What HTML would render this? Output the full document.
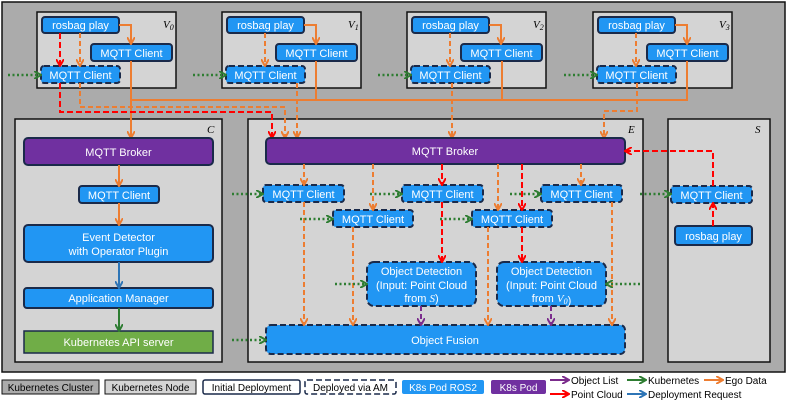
<!DOCTYPE html>
<html><head><meta charset="utf-8"><style>
body{margin:0;background:#fff}
svg{display:block;font-family:"Liberation Sans",sans-serif}
.b{fill:#2196f3;stroke:#1a2a4a;stroke-width:2}
.d{stroke-dasharray:6,3}
.t{fill:#fff;font-size:11px;text-anchor:middle}
.o{stroke:#ed7d31;stroke-width:2;fill:none}
.r{stroke:#ff0000;stroke-width:2;fill:none;stroke-dasharray:6,3}
.od{stroke-dasharray:5,3}
.g{stroke:#2e7d32;stroke-width:2.5;fill:none;stroke-dasharray:2,2.5}
.p{stroke:#7b2c8c;stroke-width:2;fill:none;stroke-dasharray:5,3}
.lbl{font-family:"Liberation Serif",serif;font-style:italic;font-size:11px}
.lg{font-size:10px;text-anchor:middle}
</style></head><body>
<svg width="788" height="405" viewBox="0 0 788 405">
<defs>
<marker id="ao" markerWidth="8" markerHeight="8" refX="6" refY="4" orient="auto" markerUnits="userSpaceOnUse"><path d="M0,0 L7,4 L0,8" fill="none" stroke="#ed7d31" stroke-width="2"/></marker>
<marker id="ar" markerWidth="8" markerHeight="8" refX="6" refY="4" orient="auto" markerUnits="userSpaceOnUse"><path d="M0,0 L7,4 L0,8" fill="none" stroke="#ff0000" stroke-width="2"/></marker>
<marker id="ag" markerWidth="8" markerHeight="8" refX="6" refY="4" orient="auto" markerUnits="userSpaceOnUse"><path d="M0,0 L7,4 L0,8" fill="none" stroke="#2e7d32" stroke-width="2"/></marker>
<marker id="ap" markerWidth="8" markerHeight="8" refX="6" refY="4" orient="auto" markerUnits="userSpaceOnUse"><path d="M0,0 L7,4 L0,8" fill="none" stroke="#7b2c8c" stroke-width="2"/></marker>
<marker id="ab" markerWidth="8" markerHeight="8" refX="6" refY="4" orient="auto" markerUnits="userSpaceOnUse"><path d="M0,0 L7,4 L0,8" fill="none" stroke="#2e75b6" stroke-width="2"/></marker>
</defs>
<rect x="2" y="2" width="783" height="370" fill="#ababab" stroke="#111" stroke-width="1.5"/>
<!-- V nodes -->
<g id="v">
<rect x="37" y="12" width="139" height="76" fill="#d4d4d4" stroke="#111" stroke-width="1.5"/>
<rect x="42" y="17" width="77" height="16" rx="3" class="b"/><text x="80.5" y="29" class="t">rosbag play</text>
<rect x="91" y="44" width="81" height="17" rx="3" class="b"/><text x="131.5" y="57" class="t">MQTT Client</text>
<rect x="41" y="66" width="79" height="17" rx="3" class="b d"/><text x="80.5" y="79" class="t">MQTT Client</text>
<path d="M119,25 H131 V43" class="o" marker-end="url(#ao)"/>
<path d="M80,33 V65" class="o od" marker-end="url(#ao)"/>
<path d="M8,75 H40" class="g" marker-end="url(#ag)"/>
</g>
<text x="163" y="28" class="lbl">V<tspan font-size="8" dy="2">0</tspan></text>
<path d="M60,33 V65" class="r" marker-end="url(#ar)"/>
<use href="#v" x="185"/><text x="348" y="28" class="lbl">V<tspan font-size="8" dy="2">1</tspan></text>
<use href="#v" x="370"/><text x="533" y="28" class="lbl">V<tspan font-size="8" dy="2">2</tspan></text>
<use href="#v" x="556"/><text x="719" y="28" class="lbl">V<tspan font-size="8" dy="2">3</tspan></text>
<!-- nodes C E S -->
<rect x="15" y="119" width="207" height="243" fill="#d4d4d4" stroke="#111" stroke-width="1.5"/>
<rect x="248" y="119" width="395" height="243" fill="#d4d4d4" stroke="#111" stroke-width="1.5"/>
<rect x="668" y="119" width="102" height="243" fill="#d4d4d4" stroke="#111" stroke-width="1.5"/>
<text x="207" y="133" class="lbl">C</text><text x="628" y="133" class="lbl">E</text><text x="755" y="133" class="lbl">S</text>
<!-- V to nodes connections -->
<path d="M131,61 V100 H687 V61 M316,61 V100 M502,61 V100" class="o"/>
<path d="M131,100 V137" class="o" marker-end="url(#ao)"/>
<path d="M60,83 V112 H272 V137" class="r" marker-end="url(#ar)"/>
<path d="M80,83 V107 H285 V137" class="o od" marker-end="url(#ao)"/>
<path d="M297,83 V137" class="o od" marker-end="url(#ao)"/>
<path d="M452,83 V137" class="o od" marker-end="url(#ao)"/>
<path d="M637,83 V111 H604 V137" class="o od" marker-end="url(#ao)"/>
<!-- C -->
<rect x="24" y="138" width="189" height="27" rx="4" fill="#7030a0" stroke="#1a2a4a" stroke-width="2"/><text x="118.5" y="156" class="t">MQTT Broker</text>
<rect x="79" y="186" width="80" height="17" rx="3" class="b"/><text x="119" y="199" class="t">MQTT Client</text>
<rect x="24" y="225" width="189" height="37" rx="4" class="b"/><text x="118.5" y="241" class="t">Event Detector</text><text x="118.5" y="255" class="t">with Operator Plugin</text>
<rect x="24" y="288" width="189" height="20" rx="3" class="b"/><text x="118.5" y="302" class="t">Application Manager</text>
<rect x="24" y="331" width="189" height="22" fill="#70ad47" stroke="#1a2a4a" stroke-width="1.5"/><text x="118.5" y="346" class="t">Kubernetes API server</text>
<path d="M119,165 V185" class="o" marker-end="url(#ao)"/>
<path d="M119,203 V224" class="o" marker-end="url(#ao)"/>
<path d="M119,262 V287" stroke="#2e75b6" stroke-width="2" marker-end="url(#ab)"/>
<path d="M119,308 V330" stroke="#2e7d32" stroke-width="2" marker-end="url(#ag)"/>
<!-- E -->
<rect x="266" y="138" width="359" height="26" rx="4" fill="#7030a0" stroke="#1a2a4a" stroke-width="2"/><text x="445" y="155" class="t">MQTT Broker</text>
<rect x="263" y="185" width="81" height="17" rx="3" class="b d"/><text x="303.5" y="198" class="t">MQTT Client</text>
<rect x="402" y="185" width="81" height="17" rx="3" class="b d"/><text x="442.5" y="198" class="t">MQTT Client</text>
<rect x="541" y="185" width="81" height="17" rx="3" class="b d"/><text x="581.5" y="198" class="t">MQTT Client</text>
<rect x="333" y="210" width="80" height="17" rx="3" class="b d"/><text x="373" y="223" class="t">MQTT Client</text>
<rect x="472" y="210" width="80" height="17" rx="3" class="b d"/><text x="512" y="223" class="t">MQTT Client</text>
<rect x="367" y="262" width="109" height="44" rx="7" class="b d"/><text x="421.5" y="275" class="t">Object Detection</text><text x="421.5" y="289" class="t">(Input: Point Cloud</text><text x="421.5" y="302" class="t">from <tspan class="lbl" fill="#fff">S</tspan>)</text>
<rect x="497" y="262" width="109" height="44" rx="7" class="b d"/><text x="551.5" y="275" class="t">Object Detection</text><text x="551.5" y="289" class="t">(Input: Point Cloud</text><text x="551.5" y="302" class="t">from <tspan class="lbl" fill="#fff">V<tspan font-size="8" dy="2">0</tspan></tspan>)</text>
<rect x="266" y="325" width="359" height="29" rx="5" class="b d"/><text x="445" y="344" class="t">Object Fusion</text>
<path d="M304,164 V184" class="o od" marker-end="url(#ao)"/>
<path d="M373,164 V209" class="o od" marker-end="url(#ao)"/>
<path d="M442,164 V184" class="r" marker-end="url(#ar)"/>
<path d="M498,164 V209" class="o od" marker-end="url(#ao)"/>
<path d="M522,164 V209" class="r" marker-end="url(#ar)"/>
<path d="M581,164 V184" class="o od" marker-end="url(#ao)"/>
<path d="M442,202 V261" class="r" marker-end="url(#ar)"/>
<path d="M522,227 V261" class="r" marker-end="url(#ar)"/>
<path d="M304,202 V324" class="o od" marker-end="url(#ao)"/>
<path d="M353,227 V324" class="o od" marker-end="url(#ao)"/>
<path d="M488,227 V324" class="o od" marker-end="url(#ao)"/>
<path d="M612,202 V324" class="o od" marker-end="url(#ao)"/>
<path d="M421,306 V324" class="p" marker-end="url(#ap)"/>
<path d="M551,306 V324" class="p" marker-end="url(#ap)"/>
<path d="M232,194 H262" class="g" marker-end="url(#ag)"/>
<path d="M370,194 H401" class="g" marker-end="url(#ag)"/>
<path d="M510,194 H540" class="g" marker-end="url(#ag)"/>
<path d="M300,219 H332" class="g" marker-end="url(#ag)"/>
<path d="M440,219 H471" class="g" marker-end="url(#ag)"/>
<path d="M335,284 H366" class="g" marker-end="url(#ag)"/>
<path d="M640,284 H607" class="g" marker-end="url(#ag)"/>
<path d="M232,340 H265" class="g" marker-end="url(#ag)"/>
<!-- S -->
<rect x="671" y="186" width="81" height="17" rx="3" class="b d"/><text x="711.5" y="199" class="t">MQTT Client</text>
<rect x="675" y="226" width="77" height="19" rx="3" class="b"/><text x="713.5" y="240" class="t">rosbag play</text>
<path d="M713,226 V204" class="r" marker-end="url(#ar)"/>
<path d="M713,186 V151 H626" class="r" marker-end="url(#ar)"/>
<path d="M640,194 H670" class="g" marker-end="url(#ag)"/>
<!-- legend -->
<rect x="2" y="380" width="97" height="14" fill="#ababab" stroke="#111"/><text x="50.5" y="391" class="lg">Kubernetes Cluster</text>
<rect x="105" y="380" width="91" height="14" fill="#d4d4d4" stroke="#111"/><text x="150.5" y="391" class="lg">Kubernetes Node</text>
<rect x="203" y="380" width="97" height="14" rx="2" fill="#fff" stroke="#1a2a4a" stroke-width="1.5"/><text x="251.5" y="391" class="lg">Initial Deployment</text>
<rect x="305" y="380" width="91" height="14" rx="2" fill="#fff" stroke="#1a2a4a" stroke-width="1.5" stroke-dasharray="6,3"/><text x="350.5" y="391" class="lg">Deployed via AM</text>
<rect x="402" y="380" width="82" height="14" rx="2" fill="#2196f3"/><text x="443" y="391" class="lg" fill="#fff">K8s Pod ROS2</text>
<rect x="491" y="380" width="55" height="14" rx="2" fill="#7030a0"/><text x="518.5" y="391" class="lg" fill="#fff">K8s Pod</text>
<path d="M550,380 H568" stroke="#7b2c8c" stroke-width="2" marker-end="url(#ap)"/><text x="571" y="384" font-size="10">Object List</text>
<path d="M550,394 H568" stroke="#ff0000" stroke-width="2" marker-end="url(#ar)"/><text x="571" y="398" font-size="10">Point Cloud</text>
<path d="M627,380 H645" stroke="#2e7d32" stroke-width="2" marker-end="url(#ag)"/><text x="648" y="384" font-size="10">Kubernetes</text>
<path d="M627,394 H645" stroke="#2e75b6" stroke-width="2" marker-end="url(#ab)"/><text x="648" y="398" font-size="10">Deployment Request</text>
<path d="M704,380 H722" stroke="#ed7d31" stroke-width="2" marker-end="url(#ao)"/><text x="725" y="384" font-size="10">Ego Data</text>
</svg>
</body></html>
